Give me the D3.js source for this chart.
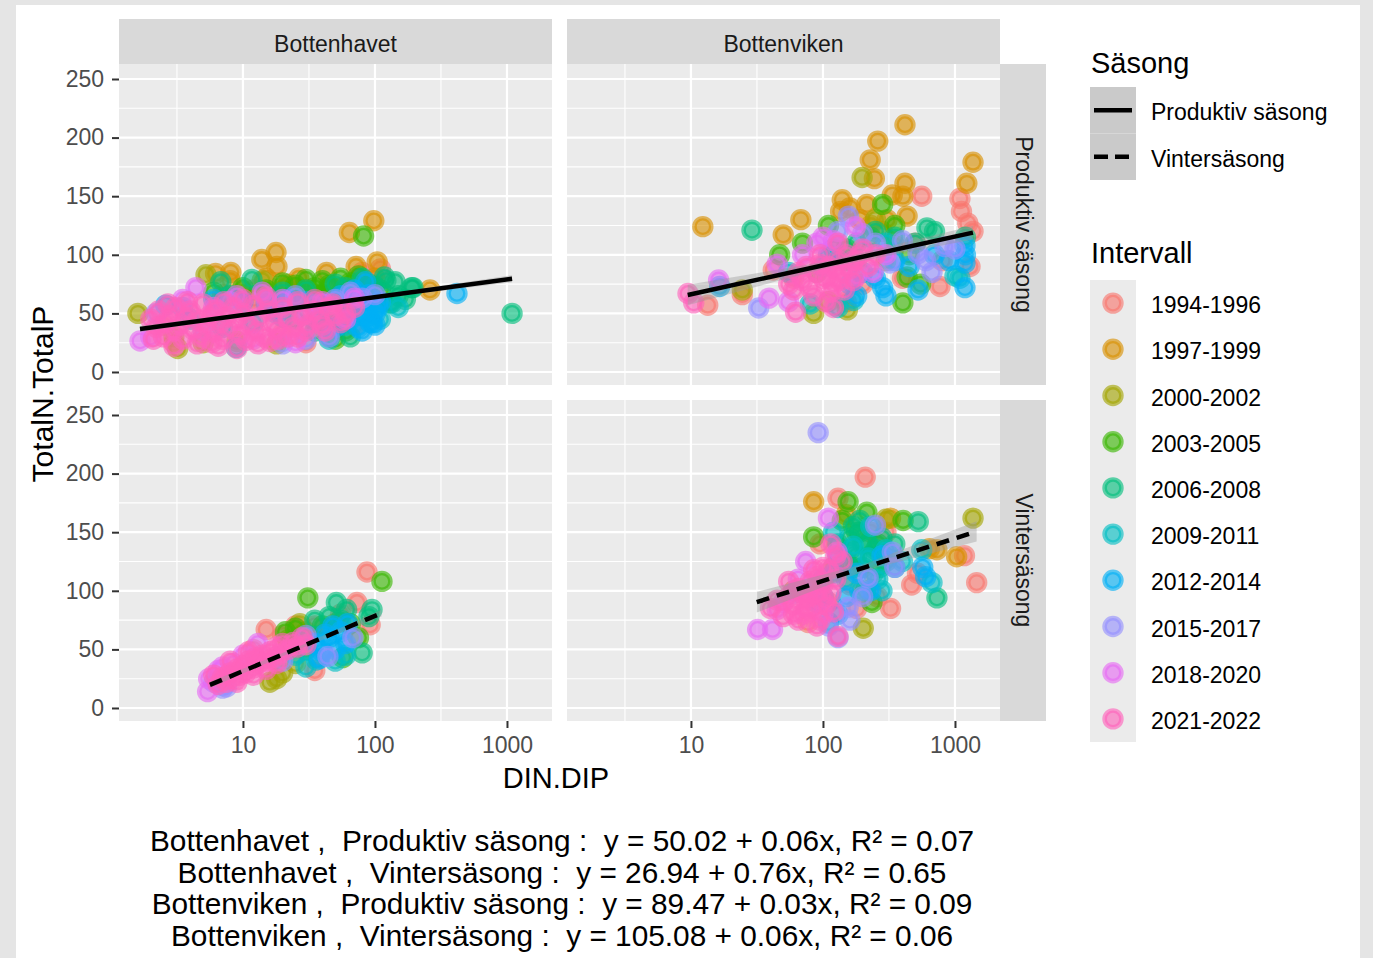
<!DOCTYPE html>
<html>
<head>
<meta charset="utf-8">
<script src="https://cdn.jsdelivr.net/npm/d3@7"></script>
<style>
  body { margin: 0; background: #e5e5e5; }
  svg { display: block; font-family: "Liberation Sans", Arial, sans-serif; }
</style>
</head>
<body>
<svg id="drawing_region"></svg>
<script>
const regions = ['Bottenhavet', 'Bottenviken'];
const seasons = ['Produktiv säsong', 'Vintersäsong'];
const intervals = ['1994-1996', '1997-1999', '2000-2002', '2003-2005', '2006-2008',
                   '2009-2011', '2012-2014', '2015-2017', '2018-2020', '2021-2022'];
const xTicks = [10, 100, 1000];
const xMinorTicks = [3.162, 31.62, 316.2];
const yTicks = [0, 50, 100, 150, 200, 250];
const yMinorTicks = [25, 75, 125, 175, 225];

// [DIN.DIP, TotalN.TotalP, interval index]
const bhProdPoints = [
  [3,25,0],[7,66,0],[12,70,0],[20,33,0],[30,25,0],[45,30,0],[70,40,0],[80,85,0],[100,60,0],[40,65,0],[2.5,40,0],[6,50,0],[110,88,0],[85,74,0],
  [6.2,84,1],[8.1,85,1],[13.9,96,1],[17.8,102,1],[18.1,90,1],[26.5,80,1],[43,85,1],[64,119,1],[98,129,1],[72,90,1],[104,94,1],[261,70,1],[15,80,1],[22,75,1],[8,78,1],[30,70,1],[55,72,1],[100,80,1],[80,68,1],[12,63,1],
  [1.6,50,2],[5.25,83,2],[3,30,2],[5,25,2],[10,68,2],[14,78,2],[20,72,2],[35,66,2],[3.2,20,2],[9,26,2],[18,24,2],[60,55,2],[45,72,2],
  [82,116,3],[10,72,3],[15,70,3],[20,76,3],[25,74,3],[30,79,3],[35,72,3],[40,78,3],[45,74,3],[55,80,3],[65,76,3],[75,82,3],[90,75,3],[110,70,3],[16,62,3],[28,63,3],[40,66,3],[55,68,3],[6,68,3],[70,62,3],[60,35,3],[50,28,3],
  [6.8,77,4],[11.7,79,4],[121,78,4],[190,72,4],[134,59,4],[194,72,4],[1093,50,4],[44,38,4],[45.6,42,4],[118,81,4],[142,77,4],[130,59,4],[30,70,4],[50,75,4],[60,72,4],[80,80,4],[100,73,4],[20,68,4],[8,65,4],[150,65,4],[170,62,4],[25,45,4],[35,35,4],[65,30,4],
  [8.9,21,5],[4,45,5],[12,42,5],[20,47,5],[35,44,5],[60,40,5],[80,48,5],[110,45,5],[150,55,5],[7,38,5],[45,28,5],
  [2.6,57,6],[3.5,55,6],[6,62,6],[10,60,6],[15,58,6],[22,62,6],[30,60,6],[40,58,6],[55,65,6],[70,70,6],[85,77,6],[87,55,6],[95,42,6],[67,53,6],[92,42,6],[100,50,6],[110,60,6],[75,38,6],[418,67,6],[50,38,6],[18,50,6],
  [75,60,6],[90,48,6],[80,35,6],[100,40,6],[105,55,6],[90,66,6],
  [2.2,50,7],[5,35,7],[8,60,7],[15,62,7],[25,65,7],[35,58,7],[50,62,7],[65,68,7],[80,63,7],[45,30,7],[30,28,7],[20,24,7],[100,66,7],
  [1.66,26.5,8],[4.4,72,8],[2,30,8],[3.5,62,8],[6,55,8],[9,65,8],[14,68,8],[20,62,8],[30,50,8],[40,60,8],[60,45,8],[70,63,8],[12,28,8],[25,25,8],
  [2,45,9],[2.2,38,9],[2.3,52,9],[2.5,30,9],[2.6,42,9],[2.8,48,9],[3,35,9],[3.1,55,9],[3.3,40,9],[3.5,28,9],[3.7,47,9],[4,52,9],[4.2,36,9],[4.5,44,9],[4.8,30,9],[5,58,9],[5.3,40,9],[5.6,48,9],[6,34,9],[6.3,53,9],[6.7,42,9],[7,28,9],[7.5,47,9],[8,37,9],[8.5,55,9],[9,44,9],[9.5,32,9],[10,50,9],[11,40,9],[12,57,9],[12.5,35,9],[13.5,47,9],[14.5,30,9],[15.5,52,9],[17,42,9],[18,36,9],[20,55,9],[22,45,9],[24,38,9],[26,60,9],[28,48,9],[31,40,9],[34,52,9],[38,45,9],[42,35,9],[45,55,9],[50,48,9],[55,42,9],[3.8,60,9],[7.2,60,9],[10.5,27,9],[18.5,28,9],[26,30,9],[5.8,25,9],[2.7,58,9],[2.1,28,9],
  [3,22,9],[4.5,24,9],[6.5,22,9],[9,20,9],[13,24,9],[16,26,9],[22,30,9],[30,35,9],[40,40,9],[60,50,9],[70,55,9],[35,62,9],[48,58,9],[15,64,9],[10,62,9]
];

const bhWinterPoints = [
  [87,116,0],[73,90,0],[92,71,0],[15,67,0],[20,62,0],[12,50,0],[35,70,0],[55,80,0],[25,70,0],[35,32,0],
  [30,65,1],[50,72,1],
  [16,22,2],[27,72,2],[20,30,2],[25,38,2],[18,25,2],[22,58,2],[28,62,2],
  [113,108,3],[31,94,3],[57,43,3],[21,65,3],[25,68,3],[40,70,3],[65,72,3],[30,50,3],[75,60,3],
  [51,90,4],[61,84,4],[95,84,4],[80,47,4],[35,75,4],[45,78,4],[90,78,4],[55,75,4],
  [30,35,5],[36,41,5],[25,45,5],[50,40,5],[60,45,5],
  [35,55,6],[40,48,6],[45,60,6],[50,50,6],[55,65,6],[60,55,6],[38,42,6],[48,70,6],[62,72,6],[42,63,6],
  [7,17,7],[68,60,7],[44,44,7],[30,62,7],[7.5,18,7],[6,22,7],[20,40,7],
  [5.4,14,8],[5.5,25,8],[6.5,32,8],[8.5,38,8],[10,45,8],[7,35,8],[13,55,8],
  [6.5,20,9],[7,26,9],[7.5,22,9],[8,30,9],[8.5,25,9],[9,33,9],[9.5,28,9],[10,36,9],[10.5,30,9],[11,40,9],[12,34,9],[12.5,43,9],[13,38,9],[14,45,9],[15,40,9],[16,48,9],[17,43,9],[18,52,9],[19,46,9],[20,55,9],[22,50,9],[24,56,9],[26,52,9],[28,60,9],[9,22,9],[12,28,9],[15,33,9],[18,38,9],[8,40,9],[11,48,9],[30,54,9],[6,28,9]
];

const bvProdPoints = [
  [560,150,0],[1090,148,0],[1120,137,0],[1250,127,0],[1370,120,0],[770,73,0],[13.4,57,0],[42,87,0],[24.5,66,0],[500,110,0],[800,95,0],[1300,90,0],[150,60,0],[400,80,0],[60,80,0],[200,75,0],
  [12.3,124,1],[68,130,1],[50,117,1],[418,211,1],[260,197,1],[228,181,1],[245,165,1],[418,161,1],[335,151,1],[403,150,1],[140,147,1],[215,143,1],[136,137,1],[306,130,1],[434,133,1],[1370,179,1],[1230,161,1],[190,130,1],[230,125,1],[280,120,1],[350,108,1],[160,140,1],
  [198,166,2],[85,50,2],[153,53,2],[24.5,70,2],[110,60,2],[250,130,2],[300,95,2],
  [47,100,3],[283,143,3],[110,125,3],[403,59,3],[434,81,3],[70,110,3],[150,105,3],[230,115,3],[350,125,3],[550,75,3],[90,85,3],[450,100,3],
  [29,121,4],[613,123,4],[180,110,4],[250,120,4],[350,115,4],[500,110,4],[150,95,4],[700,120,4],[120,105,4],[1200,115,4],
  [1090,80,5],[170,61,5],[55,85,5],[100,90,5],[200,85,5],[300,110,5],[1000,82,5],[80,58,5],[130,55,5],
  [1190,108,6],[1190,93,6],[1190,72,6],[525,70,6],[283,72,6],[16.5,73,6],[160,75,6],[250,80,6],[350,95,6],[450,90,6],[700,100,6],[900,95,6],[1200,100,6],[300,65,6],[180,65,6],[110,100,6],
  [156,133,7],[670,85,7],[840,107,7],[525,101,7],[322,93,7],[32.6,54.6,7],[200,118,7],[250,110,7],[400,112,7],[600,95,7],[1000,105,7],[130,120,7],
  [176,124,8],[39,63,8],[16.2,78.5,8],[45,92,8],[70,100,8],[120,112,8],[100,115,8],[180,82,8],[240,85,8],[55,60,8],[300,100,8],[90,110,8],
  [9.5,67,9],[10.5,59,9],[62,51,9],[120,55,9],[60,70,9],[70,78,9],[80,72,9],[90,85,9],[100,80,9],[110,90,9],[120,75,9],[130,95,9],[140,85,9],[150,100,9],[160,88,9],[180,95,9],[200,105,9],[220,90,9],[85,65,9],[75,90,9],[95,100,9],[115,68,9],[65,85,9],[55,75,9],[170,78,9],[250,100,9],[130,110,9],[105,60,9],[145,70,9],
  [110,80,9],[125,88,9],[95,92,9],[170,95,9],[190,100,9],[135,78,9]
];

const bvWinterPoints = [
  [209,197,0],[130,179,0],[1180,130,0],[1460,107,0],[470,105,0],[325,85,0],[77,73,0],[258,95,0],[160,105,0],[95,140,0],[300,150,0],[520,115,0],[180,85,0],[110,90,0],
  [85,176,1],[325,162,1],[1030,129,1],[730,135,1],[640,136,1],[150,165,1],[230,150,1],
  [1370,162,2],[202,68,2],[300,161,2],[120,120,2],[60,100,2],
  [155,176,3],[215,167,3],[405,160,3],[85,146,3],[235,90,3],[180,150,3],[260,140,3],[140,160,3],
  [527,159,4],[730,94,4],[160,145,4],[190,150,4],[220,140,4],[250,135,4],[180,130,4],[280,145,4],[130,140,4],[200,120,4],[150,125,4],[240,115,4],[300,125,4],[170,155,4],[210,100,4],[270,120,4],[350,140,4],
  [160,135,4],[200,140,4],[230,130,4],[190,160,4],[170,120,4],
  [670,107,5],[110,73,5],[130,130,5],[170,138,5],[220,128,5],[260,110,5],[300,135,5],[150,110,5],[190,100,5],[120,150,5],[230,155,5],[350,120,5],[100,95,5],[280,100,5],[400,125,5],[560,135,5],
  [570,120,6],[600,112,6],[120,115,6],[180,115,6],[230,100,6],[150,95,6],[100,110,6],[130,80,6],[280,130,6],[90,90,6],
  [92,235,7],[250,156,7],[335,133,7],[350,120,7],[220,111,7],[155,86,7],[110,70,7],[130,60,7],[90,105,7],[200,95,7],[160,75,7],[60,98,7],
  [110,162,8],[32,67,8],[41.5,67,8],[74,125,8],[128,133,8],[50,90,8],[65,110,8],[100,80,8],[45,84,8],[80,100,8],
  [130,61,9],[40,85,9],[45,92,9],[50,78,9],[55,95,9],[60,88,9],[65,102,9],[70,80,9],[75,92,9],[80,108,9],[85,85,9],[90,97,9],[95,75,9],[100,105,9],[105,88,9],[110,118,9],[115,98,9],[120,82,9],[55,108,9],[65,75,9],[85,118,9],[70,98,9],[60,80,9],[100,95,9],[125,110,9],[140,125,9],[90,70,9],[125,130,9],[115,140,9],
  [80,95,9],[90,112,9],[75,85,9],[100,120,9]
];

// lm fit: [DIN.DIP, fit, lower, upper]
const bhProdFit = [[1.66,36.7,34.2,39.2],[42.6,58.2,57.4,59.0],[1093,79.6,76.6,82.6]];
const bhWinterFit = [[5.62,19.7,17.0,22.4],[25.1,50.3,49.1,51.5],[112,80.9,78.0,83.8]];
const bvProdFit = [[9.45,65.7,57.0,74.4],[113.7,92.3,89.6,95.0],[1368,118.9,113.0,124.8]];
const bvWinterFit = [[31.5,90.3,81.5,99.1],[214,120.5,117.5,123.5],[1459,150.7,142.0,159.4]];

const captionLines = [
  'Bottenhavet ,  Produktiv säsong :  y = 50.02 + 0.06x, R² = 0.07',
  'Bottenhavet ,  Vintersäsong :  y = 26.94 + 0.76x, R² = 0.65',
  'Bottenviken ,  Produktiv säsong :  y = 89.47 + 0.03x, R² = 0.09',
  'Bottenviken ,  Vintersäsong :  y = 105.08 + 0.06x, R² = 0.06'
];

const intervalColors = ['#F8766D', '#D89000', '#A3A500', '#39B600', '#00BF7D',
                        '#00BFC4', '#00B0F6', '#9590FF', '#E76BF3', '#FF62BC'];


class FacetScatter {

  constructor( config, panels ) {
    this.config = config;
    this.panels = panels;
    this.init();
  }

  init() {
    let self = this;
    let c = self.config;

    self.svg = d3.select( c.parent )
        .attr('width', c.width)
        .attr('height', c.height);

    self.svg.append('rect')
        .attr('x', 16).attr('y', 5)
        .attr('width', 1344).attr('height', c.height - 5)
        .attr('fill', '#ffffff');

    self.xscale = d3.scaleLog()
        .domain([1.151, 2193])
        .range([0, c.panelWidth]);

    self.yscale = d3.scaleLinear()
        .domain([-11.1, 262.8])
        .range([c.panelHeight, 0]);
  }

  render() {
    let self = this;
    let c = self.config;

    self.panels.forEach(p => {
      const px = c.colX[p.col], py = c.rowY[p.row];
      const g = self.svg.append('g')
          .attr('transform', `translate(${px}, ${py})`);

      g.append('rect')
          .attr('width', c.panelWidth).attr('height', c.panelHeight)
          .attr('fill', '#ebebeb');

      // grid
      g.selectAll('.ygmin').data(yMinorTicks).join('line')
          .attr('x1', 0).attr('x2', c.panelWidth)
          .attr('y1', d => self.yscale(d)).attr('y2', d => self.yscale(d))
          .attr('stroke', '#fff').attr('stroke-width', 1.1);
      g.selectAll('.xgmin').data(xMinorTicks).join('line')
          .attr('y1', 0).attr('y2', c.panelHeight)
          .attr('x1', d => self.xscale(d)).attr('x2', d => self.xscale(d))
          .attr('stroke', '#fff').attr('stroke-width', 1.1);
      g.selectAll('.ygmaj').data(yTicks).join('line')
          .attr('x1', 0).attr('x2', c.panelWidth)
          .attr('y1', d => self.yscale(d)).attr('y2', d => self.yscale(d))
          .attr('stroke', '#fff').attr('stroke-width', 2.2);
      g.selectAll('.xgmaj').data(xTicks).join('line')
          .attr('y1', 0).attr('y2', c.panelHeight)
          .attr('x1', d => self.xscale(d)).attr('x2', d => self.xscale(d))
          .attr('stroke', '#fff').attr('stroke-width', 2.2);

      // points
      const pts = p.points.slice().sort((a, b) => a[2] - b[2]);
      g.selectAll('circle').data(pts).join('circle')
          .attr('cx', d => self.xscale(d[0]))
          .attr('cy', d => self.yscale(d[1]))
          .attr('r', c.pointR)
          .attr('fill', d => intervalColors[d[2]])
          .attr('fill-opacity', c.pointAlpha)
          .attr('stroke', d => intervalColors[d[2]])
          .attr('stroke-opacity', c.pointAlpha)
          .attr('stroke-width', c.pointStroke);

      // smooth
      const band = d3.area()
          .x(d => self.xscale(d[0]))
          .y0(d => self.yscale(d[2]))
          .y1(d => self.yscale(d[3]));
      g.append('path').attr('d', band(p.fit))
          .attr('fill', '#999999').attr('fill-opacity', 0.4);
      const line = d3.line()
          .x(d => self.xscale(d[0]))
          .y(d => self.yscale(d[1]));
      g.append('path').attr('d', line(p.fit))
          .attr('fill', 'none').attr('stroke', '#000')
          .attr('stroke-width', c.lineWidth)
          .attr('stroke-dasharray', p.row === 1 ? '13,8' : null);

      // axes
      if (p.col === 0) {
        const ya = g.append('g').call(d3.axisLeft(self.yscale)
            .tickValues(yTicks).tickSize(7).tickPadding(8));
        self.styleAxis(ya);
      }
      if (p.row === 1) {
        const xa = g.append('g')
            .attr('transform', `translate(0, ${c.panelHeight})`)
            .call(d3.axisBottom(self.xscale)
              .tickValues(xTicks).tickFormat(d3.format('d')).tickSize(7).tickPadding(9));
        self.styleAxis(xa);
      }
    });

    // strips
    regions.forEach((r, i) => {
      self.svg.append('rect')
          .attr('x', c.colX[i]).attr('y', 19)
          .attr('width', c.panelWidth).attr('height', 45)
          .attr('fill', '#d9d9d9');
      self.svg.append('text')
          .attr('x', c.colX[i] + c.panelWidth / 2).attr('y', 51.5)
          .attr('text-anchor', 'middle')
          .attr('font-size', 23).attr('fill', '#1a1a1a')
          .text(r);
    });
    seasons.forEach((s, i) => {
      self.svg.append('rect')
          .attr('x', 1000).attr('y', c.rowY[i])
          .attr('width', 46).attr('height', c.panelHeight)
          .attr('fill', '#d9d9d9');
      self.svg.append('text')
          .attr('transform', `translate(1015.5, ${c.rowY[i] + c.panelHeight / 2}) rotate(90)`)
          .attr('text-anchor', 'middle')
          .attr('font-size', 23).attr('fill', '#1a1a1a')
          .text(s);
    });

    // axis titles
    self.svg.append('text')
        .attr('x', 556).attr('y', 788)
        .attr('text-anchor', 'middle').attr('font-size', 29)
        .text('DIN.DIP');
    self.svg.append('text')
        .attr('transform', 'translate(53, 394) rotate(-90)')
        .attr('text-anchor', 'middle').attr('font-size', 30)
        .text('TotalN.TotalP');

    self.renderLegend();

    self.svg.selectAll('.caption').data(captionLines).join('text')
        .attr('x', 562).attr('y', (d, i) => 851 + i * 31.5)
        .attr('text-anchor', 'middle').attr('font-size', 29.8)
        .style('white-space', 'pre')
        .text(d => d);
  }

  styleAxis( ax ) {
    ax.select('.domain').remove();
    ax.selectAll('.tick line').attr('stroke', '#333333').attr('stroke-width', 2);
    ax.selectAll('.tick text').attr('fill', '#4d4d4d')
        .attr('font-size', 23).attr('font-family', '"Liberation Sans", Arial, sans-serif');
  }

  renderLegend() {
    let self = this;
    let c = self.config;
    const lx = 1090, keyW = 46;

    self.svg.append('text').attr('x', 1091).attr('y', 72.5)
        .attr('font-size', 29).text('Säsong');
    seasons.forEach((s, i) => {
      const ky = 87 + i * 46.5;
      self.svg.append('rect').attr('x', lx).attr('y', ky)
          .attr('width', keyW).attr('height', 46.5).attr('fill', '#cacaca');
      self.svg.append('line')
          .attr('x1', lx + 4).attr('x2', lx + 42)
          .attr('y1', ky + 23.25).attr('y2', ky + 23.25)
          .attr('stroke', '#000').attr('stroke-width', c.lineWidth)
          .attr('stroke-dasharray', i === 1 ? '14,7' : null);
      self.svg.append('text').attr('x', 1151).attr('y', ky + 23.25 + 10)
          .attr('font-size', 23).text(s);
    });

    self.svg.append('text').attr('x', 1091).attr('y', 263)
        .attr('font-size', 29).text('Intervall');
    self.svg.append('rect').attr('x', lx).attr('y', 280)
        .attr('width', keyW).attr('height', 462).attr('fill', '#ebebeb');
    intervals.forEach((s, i) => {
      const cy = 280 + i * 46.2 + 23.1;
      self.svg.append('circle').attr('cx', lx + 23).attr('cy', cy)
          .attr('r', c.pointR)
          .attr('fill', intervalColors[i]).attr('fill-opacity', c.pointAlpha)
          .attr('stroke', intervalColors[i]).attr('stroke-opacity', c.pointAlpha)
          .attr('stroke-width', c.pointStroke);
      self.svg.append('text').attr('x', 1151).attr('y', cy + 10)
          .attr('font-size', 23).text(s);
    });
  }
}

const config = {
  parent: '#drawing_region',
  width: 1373,
  height: 958,
  colX: [119, 567],
  rowY: [64, 400],
  panelWidth: 433,
  panelHeight: 321,
  pointR: 8.4,
  pointStroke: 4.6,
  pointAlpha: 0.62,
  lineWidth: 4.5
};

const panels = [
  { col: 0, row: 0, points: bhProdPoints,   fit: bhProdFit },
  { col: 0, row: 1, points: bhWinterPoints, fit: bhWinterFit },
  { col: 1, row: 0, points: bvProdPoints,   fit: bvProdFit },
  { col: 1, row: 1, points: bvWinterPoints, fit: bvWinterFit }
];

const facet_plot = new FacetScatter( config, panels );
facet_plot.render();
</script>
</body>
</html>
